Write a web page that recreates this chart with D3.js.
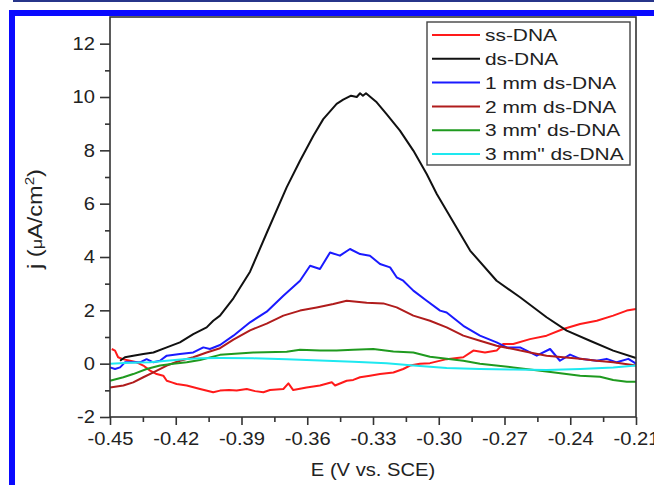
<!DOCTYPE html>
<html><head><meta charset="utf-8">
<script src="https://cdn.jsdelivr.net/npm/d3@7"></script>
<style>
body{margin:0;background:#fff;}
svg{display:block;}
text{font-family:"Liberation Sans",Arial,sans-serif;fill:#222;}
</style>
</head><body>
<svg id="chart" width="654" height="485"></svg>
<script>
// ---- data ----
const seriesNames = ["ss-DNA", "ds-DNA", "1 mm ds-DNA", "2 mm ds-DNA", "3 mm' ds-DNA", "3 mm\" ds-DNA"];

const ssE = [-0.4492,-0.4477,-0.4463,-0.4441,-0.4409,-0.4378,-0.4348,-0.4317,-0.4287,-0.4257,-0.4241,-0.4218,-0.4196,-0.4150,-0.4089,-0.4029,-0.3998,-0.3957,-0.3922,-0.3876,-0.3838,-0.3800,-0.3770,-0.3709,-0.3686,-0.3664,-0.3603,-0.3542,-0.3488,-0.3473,-0.3420,-0.3390,-0.3359,-0.3314,-0.3268,-0.3207,-0.3162,-0.3131,-0.3086,-0.3040,-0.2964,-0.2888,-0.2842,-0.2789,-0.2736,-0.2706,-0.2660,-0.2584,-0.2508,-0.2432,-0.2355,-0.2279,-0.2204,-0.2142,-0.2100];
const ssJ = [0.55,0.49,0.24,0.17,0.11,0.05,-0.07,-0.26,-0.39,-0.45,-0.64,-0.70,-0.76,-0.82,-0.95,-1.07,-1.01,-0.99,-1.01,-0.95,-1.03,-1.07,-0.99,-0.95,-0.74,-0.99,-0.89,-0.82,-0.70,-0.82,-0.64,-0.61,-0.51,-0.45,-0.39,-0.33,-0.20,-0.07,0.00,0.02,0.17,0.24,0.49,0.42,0.49,0.74,0.74,0.92,1.05,1.30,1.49,1.61,1.80,1.99,2.05];

const dsE = [-0.4454,-0.4432,-0.4394,-0.4348,-0.4302,-0.4241,-0.4181,-0.4120,-0.4059,-0.4029,-0.3998,-0.3937,-0.3861,-0.3785,-0.3694,-0.3633,-0.3572,-0.3527,-0.3466,-0.3436,-0.3400,-0.3374,-0.3359,-0.3346,-0.3332,-0.3283,-0.3238,-0.3177,-0.3116,-0.3055,-0.3009,-0.2857,-0.2736,-0.2629,-0.2508,-0.2416,-0.2310,-0.2204,-0.2100];
const dsJ = [0.11,0.24,0.30,0.36,0.42,0.61,0.80,1.11,1.36,1.61,1.80,2.45,3.45,4.90,6.61,7.61,8.55,9.17,9.74,9.90,10.05,10.00,10.14,10.05,10.14,9.80,9.36,8.74,7.99,7.11,6.36,4.24,3.11,2.49,1.74,1.24,0.86,0.49,0.21];

const mm1E = [-0.4500,-0.4477,-0.4454,-0.4432,-0.4394,-0.4363,-0.4333,-0.4302,-0.4272,-0.4241,-0.4181,-0.4120,-0.4074,-0.4044,-0.3998,-0.3937,-0.3861,-0.3785,-0.3709,-0.3633,-0.3587,-0.3542,-0.3496,-0.3451,-0.3405,-0.3359,-0.3314,-0.3268,-0.3222,-0.3192,-0.3162,-0.3116,-0.3055,-0.2994,-0.2964,-0.2888,-0.2812,-0.2736,-0.2690,-0.2629,-0.2553,-0.2492,-0.2447,-0.2401,-0.2355,-0.2279,-0.2234,-0.2188,-0.2135,-0.2100];
const mm1J = [-0.14,-0.20,-0.14,0.05,0.05,0.05,0.17,0.05,0.11,0.30,0.36,0.42,0.61,0.55,0.70,1.05,1.55,1.95,2.55,3.11,3.67,3.55,4.17,4.05,4.30,4.11,4.05,3.74,3.61,3.24,3.11,2.74,2.36,1.99,1.92,1.42,1.05,0.80,0.61,0.61,0.30,0.55,0.11,0.34,0.18,0.11,0.18,0.05,0.18,0.00];

const mm2E = [-0.4500,-0.4439,-0.4394,-0.4348,-0.4302,-0.4241,-0.4181,-0.4120,-0.4059,-0.3998,-0.3937,-0.3861,-0.3785,-0.3709,-0.3633,-0.3557,-0.3481,-0.3420,-0.3329,-0.3253,-0.3192,-0.3116,-0.3040,-0.2964,-0.2888,-0.2812,-0.2736,-0.2660,-0.2584,-0.2508,-0.2432,-0.2355,-0.2279,-0.2204,-0.2100];
const mm2J = [-0.89,-0.82,-0.70,-0.51,-0.33,-0.07,0.11,0.24,0.42,0.58,0.90,1.25,1.50,1.80,1.99,2.11,2.24,2.36,2.28,2.26,2.11,1.80,1.61,1.36,1.05,0.86,0.67,0.55,0.42,0.30,0.24,0.18,0.11,0.05,-0.07];

const mm3aE = [-0.4500,-0.4439,-0.4394,-0.4333,-0.4272,-0.4211,-0.4150,-0.4089,-0.3998,-0.3846,-0.3694,-0.3633,-0.3542,-0.3466,-0.3390,-0.3299,-0.3207,-0.3116,-0.3040,-0.2888,-0.2812,-0.2660,-0.2508,-0.2355,-0.2264,-0.2204,-0.2142,-0.2100];
const mm3aJ = [-0.64,-0.51,-0.39,-0.20,-0.07,0.00,0.05,0.14,0.33,0.42,0.45,0.52,0.49,0.49,0.52,0.55,0.46,0.42,0.26,0.11,0.00,-0.14,-0.29,-0.45,-0.49,-0.61,-0.68,-0.68];

const mm3bE = [-0.4500,-0.4409,-0.4317,-0.4241,-0.4166,-0.4089,-0.3998,-0.3846,-0.3694,-0.3542,-0.3390,-0.3238,-0.3116,-0.2964,-0.2812,-0.2660,-0.2508,-0.2355,-0.2204,-0.2100];
const mm3bJ = [0.00,0.03,0.05,0.11,0.17,0.20,0.21,0.20,0.17,0.12,0.07,0.02,-0.07,-0.16,-0.20,-0.22,-0.24,-0.20,-0.14,-0.07];

const xTicks = [-0.45,-0.42,-0.39,-0.36,-0.33,-0.30,-0.27,-0.24,-0.21];
const yTicks = [-2,0,2,4,6,8,10,12];

// ---- styles (kept apart from data) ----
const colors = ["#ff1a1a", "#111111", "#1a1aff", "#b01c1c", "#1f9a1f", "#1ee8f0"];
const seriesData = [[ssE,ssJ],[dsE,dsJ],[mm1E,mm1J],[mm2E,mm2J],[mm3aE,mm3aJ],[mm3bE,mm3bJ]];

const svg = d3.select("#chart");
const L = 110, R = 636, T = 17, B = 417;
const SX = 1.12; // horizontal stretch of the original lettering
const FS = 18;
const x = d3.scaleLinear().domain([-0.45, -0.21]).range([L, R]);
const y = d3.scaleLinear().domain([-2, 13]).range([B, T]);

// outer decorative frame
svg.append("rect").attr("x", 13).attr("y", 0).attr("width", 641).attr("height", 2).attr("fill", "#27358a");
svg.append("rect").attr("x", 12).attr("y", 13).attr("width", 700).attr("height", 600)
  .attr("fill", "none").attr("stroke", "#0a0aff").attr("stroke-width", 6);

// lines
const line = d3.line().x(d => x(d[0])).y(d => y(d[1]));
const plot = svg.append("g");
seriesData.forEach((s, i) => {
  const pts = s[0].map((e, k) => [e, s[1][k]]);
  plot.append("path").datum(pts).attr("d", line)
    .attr("fill", "none").attr("stroke", colors[i]).attr("stroke-width", 2)
    .attr("stroke-linejoin", "round");
});

// frame
svg.append("rect").attr("x", L).attr("y", T).attr("width", R - L).attr("height", B - T)
  .attr("fill", "none").attr("stroke", "#333").attr("stroke-width", 1.6);

// minor ticks
const xMinor = xTicks.slice(0, -1).map(v => v + 0.015);
const yMinor = yTicks.map(v => v + 1).filter(v => v < 13);
svg.append("g").attr("transform", `translate(0,${B})`)
  .call(d3.axisBottom(x).tickValues(xMinor).tickSize(5).tickFormat(""))
  .call(g => g.select(".domain").remove())
  .selectAll("line").attr("stroke", "#333").attr("stroke-width", 1.6);
svg.append("g").attr("transform", `translate(${L},0)`)
  .call(d3.axisLeft(y).tickValues(yMinor).tickSize(5).tickFormat(""))
  .call(g => g.select(".domain").remove())
  .selectAll("line").attr("stroke", "#333").attr("stroke-width", 1.6);

// major ticks
const xAxis = svg.append("g").attr("transform", `translate(0,${B})`)
  .call(d3.axisBottom(x).tickValues(xTicks).tickSize(8).tickPadding(7).tickFormat(d => d.toFixed(2)));
xAxis.select(".domain").remove();
xAxis.selectAll("line").attr("stroke", "#333").attr("stroke-width", 1.6);
xAxis.selectAll("text").attr("font-size", FS).attr("transform", `scale(${SX},1)`).style("font-family", '"Liberation Sans",Arial,sans-serif').attr("fill", "#222");

const yAxis = svg.append("g").attr("transform", `translate(${L},0)`)
  .call(d3.axisLeft(y).tickValues(yTicks).tickSize(10).tickPadding(7).tickFormat(d => String(d)));
yAxis.select(".domain").remove();
yAxis.selectAll("line").attr("stroke", "#333").attr("stroke-width", 1.6);
yAxis.selectAll("text").attr("font-size", FS).attr("x", -15 / SX).attr("transform", `scale(${SX},1)`).style("font-family", '"Liberation Sans",Arial,sans-serif').attr("fill", "#222");

// axis titles
svg.append("text").attr("transform", `translate(373,476) scale(${SX},1)`)
  .attr("text-anchor", "middle").attr("font-size", FS).text("E (V vs. SCE)");

const yt = svg.append("text").attr("text-anchor", "middle").attr("font-size", 17);
yt.append("tspan").text("j (");
yt.append("tspan").attr("font-size", 13).text("μ");
yt.append("tspan").text("A/cm");
yt.append("tspan").attr("font-size", 11).attr("dy", -7).text("2");
yt.append("tspan").attr("dy", 7).text(")");
const ylen = yt.node().getComputedTextLength();
yt.attr("transform", `translate(42,219) rotate(-90) scale(${100 / ylen},1.15)`);

// legend
const lg = svg.append("g");
lg.append("rect").attr("x", 427).attr("y", 22).attr("width", 203).attr("height", 143)
  .attr("fill", "#fff").attr("stroke", "#444").attr("stroke-width", 1.4);
const rowY = d3.scalePoint().domain(seriesNames).range([35, 154]);
seriesNames.forEach((n, i) => {
  const yy = rowY(n);
  lg.append("line").attr("x1", 432).attr("x2", 480).attr("y1", yy).attr("y2", yy)
    .attr("stroke", colors[i]).attr("stroke-width", 2);
  lg.append("text").attr("transform", `translate(485,${yy}) scale(1.23,1)`)
    .attr("dy", "0.36em").attr("font-size", 17).text(n);
});
</script>
</body></html>
